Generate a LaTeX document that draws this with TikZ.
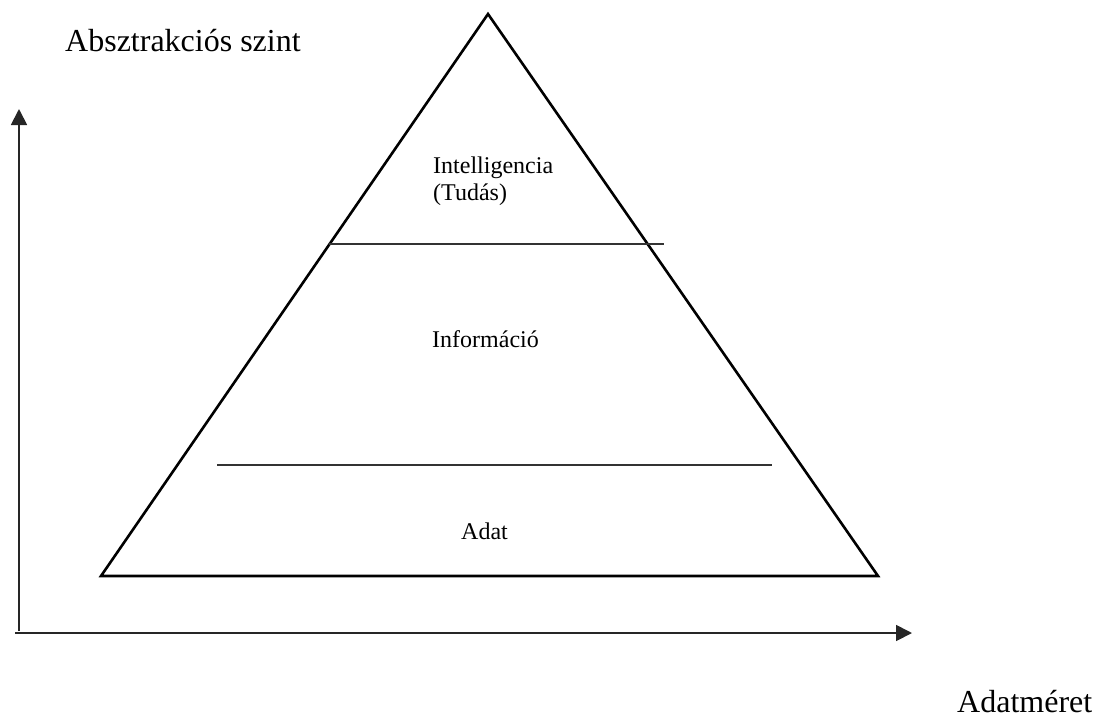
\documentclass[tikz,border=0pt]{standalone}
\usepackage{fontspec}
\setmainfont{Liberation Serif}
\usetikzlibrary{arrows.meta}
\begin{document}
\begin{tikzpicture}[x=1pt,y=-1pt,
  tri/.style={line width=2.6pt,line join=miter},
  sep/.style={line width=1.6pt,draw=black!80},
  axis/.style={line width=1.8pt,draw=black!85,-{Triangle[length=16pt,width=16pt]}},
  big/.style={font=\fontsize{32}{38}\selectfont,anchor=base west,inner sep=0pt},
  lbl/.style={font=\fontsize{24}{28}\selectfont,anchor=base west,inner sep=0pt}]
\useasboundingbox (0,0) rectangle (1097,720);
% triangle
\coordinate (apex) at (488,14);
\coordinate (bl) at (101,576);
\coordinate (br) at (878,576);
\draw[tri] (apex) -- (bl) -- (br) -- cycle;
% separating lines
\coordinate (s1a) at (329,244);
\coordinate (s1b) at (664,244);
\coordinate (s2a) at (217,465);
\coordinate (s2b) at (772,465);
\draw[sep] (s1a) -- (s1b);
\draw[sep] (s2a) -- (s2b);
% axes
\coordinate (oy) at (19,631);
\coordinate (ytop) at (19,109);
\coordinate (ox) at (15,633);
\coordinate (xend) at (912,633);
\draw[axis] (oy) -- (ytop);
\draw[axis] (ox) -- (xend);
% labels
\node[big] (ylab) at (65,51) {Absztrakciós szint};
\node[big] (xlab) at (957,712) {Adatméret};
\node[lbl] (intel) at (433,173) {Intelligencia};
\node[lbl] (tudas) at (433,200) {(Tudás)};
\node[lbl] (info) at (432,347) {Információ};
\node[lbl] (adat) at (461,539) {Adat};
\end{tikzpicture}
\end{document}
